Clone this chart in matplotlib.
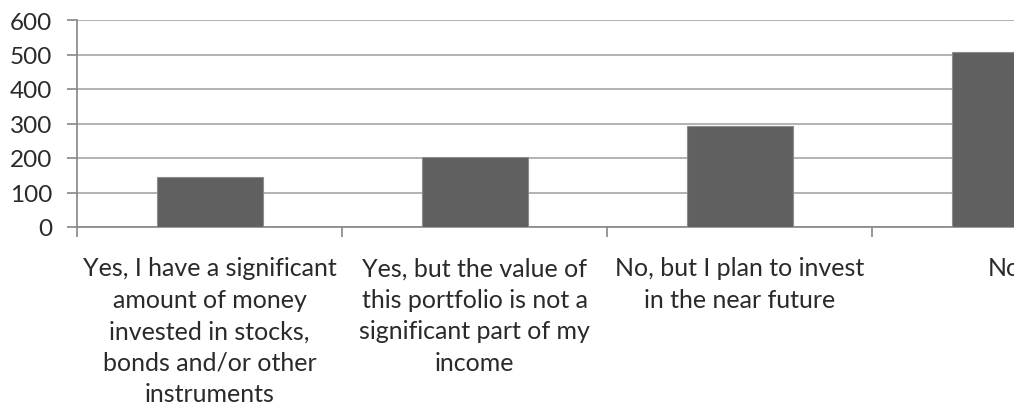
import matplotlib.pyplot as plt
import numpy as np

categories = [
    "Yes, I have a significant\namount of money\ninvested in stocks,\nbonds and/or other\ninstruments",
    "Yes, but the value of\nthis portfolio is not a\nsignificant part of my\nincome",
    "No, but I plan to invest\nin the near future",
    "No",
]
values = [144, 202, 293, 508]
yticks = [0, 100, 200, 300, 400, 500, 600]

plt.rcParams['font.family'] = ['Lato', 'DejaVu Sans']

fig = plt.figure(figsize=(10.14, 4.14), dpi=100)
# axes runs past the right edge, like the cropped original
ax = fig.add_axes([77 / 1014, 186 / 414, 1060 / 1014, 207 / 414])

x = np.arange(len(values))
ax.bar(x, values, width=0.4, color='#606060', edgecolor='#8c8c8c', linewidth=0.8, zorder=3)

ax.set_xlim(-0.5, len(values) - 0.5)
ax.set_ylim(0, 600)
ax.set_yticks(yticks)
ax.yaxis.grid(True, color='#a6a6a6', linewidth=1.2, zorder=0)

ax.set_xticks(np.arange(-0.5, len(values)))
ax.set_xticklabels([])
ax.set_xticks(x, minor=True)
ax.set_xticklabels(categories, minor=True, fontsize=18, linespacing=1.45, va='top', color='#2a2a2a')
ax.tick_params(axis='x', which='minor', length=0, pad=21)
ax.tick_params(axis='x', which='major', length=7, width=1.2, color='#868686')
ax.tick_params(axis='y', length=7, width=1.2, color='#868686', pad=11, labelsize=17.5, labelcolor='#2a2a2a')

for s in ['top', 'right']:
    ax.spines[s].set_visible(False)
for s in ['left', 'bottom']:
    ax.spines[s].set_color('#868686')
    ax.spines[s].set_linewidth(1.2)

plt.savefig('out.png', dpi=100)
